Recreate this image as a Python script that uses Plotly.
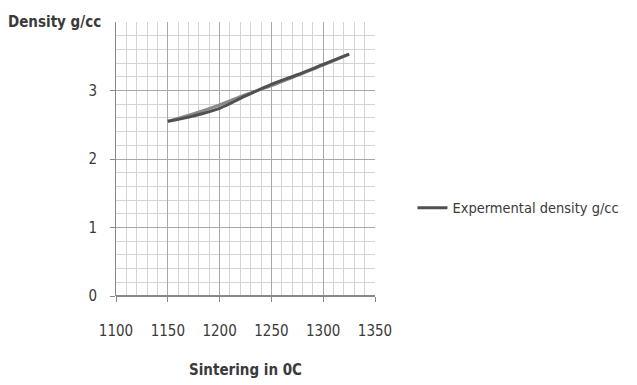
import plotly.graph_objects as go

temps = [1150, 1175, 1200, 1225, 1250, 1275, 1300, 1325]
exp_density = [2.55, 2.63, 2.74, 2.92, 3.09, 3.23, 3.38, 3.53]
fit_density = [2.55, 2.66, 2.79, 2.94, 3.07, 3.22, 3.37, 3.53]

x_ticks = [1100, 1150, 1200, 1250, 1300, 1350]
y_ticks = [0, 1, 2, 3]

FONT = "DejaVu Sans Condensed, Liberation Sans Narrow, sans-serif"
TXT = "#3a3a3a"

fig = go.Figure()
fig.add_trace(go.Scatter(x=temps, y=fit_density, mode="lines", line=dict(color="#8a8a8a", width=3, shape="spline"),
                         showlegend=False, hoverinfo="skip"))
fig.add_trace(go.Scatter(x=temps, y=exp_density, mode="lines", line=dict(color="#505050", width=3, shape="spline"),
                         name="Expermental density g/cc"))

fig.update_layout(
    width=629, height=377,
    margin=dict(l=108, r=262, t=14, b=89, autoexpand=False),
    paper_bgcolor="white", plot_bgcolor="white",
    font=dict(family=FONT, size=15, color=TXT),
    legend=dict(xref="container", yref="container", x=0.643, y=0.47,
                xanchor="left", yanchor="middle", bgcolor="rgba(0,0,0,0)",
                font=dict(size=14.5, color=TXT), itemwidth=30),
    xaxis=dict(range=[1100, 1350], tickvals=x_ticks, ticktext=[str(v) for v in x_ticks],
               showgrid=True, gridcolor="#a8a8a8", gridwidth=1,
               minor=dict(dtick=10, showgrid=True, gridcolor="#d4d4d4"),
               ticks="outside", ticklen=5, tickcolor="#888", ticklabelstandoff=16,
               showline=False, zeroline=False, fixedrange=True, automargin=False),
    yaxis=dict(range=[0, 4], tickvals=y_ticks, ticktext=[str(v) for v in y_ticks],
               showgrid=True, gridcolor="#a8a8a8", gridwidth=1,
               minor=dict(dtick=0.2, showgrid=True, gridcolor="#d4d4d4"),
               ticks="outside", ticklen=5, tickcolor="#888", ticklabelstandoff=10,
               showline=True, linecolor="#888", zeroline=True, zerolinecolor="#888",
               fixedrange=True, automargin=False),
    annotations=[
        dict(text="<b>Density g/cc</b>", xref="paper", yref="paper", x=-0.05, y=1.0,
             xanchor="right", yanchor="middle", showarrow=False, font=dict(size=15, color=TXT)),
        dict(text="<b>Sintering in 0C</b>", xref="paper", yref="paper", x=0.5, y=-0.27,
             xanchor="center", yanchor="middle", showarrow=False, font=dict(size=15, color=TXT)),
    ],
)

fig.write_html("out.html")
